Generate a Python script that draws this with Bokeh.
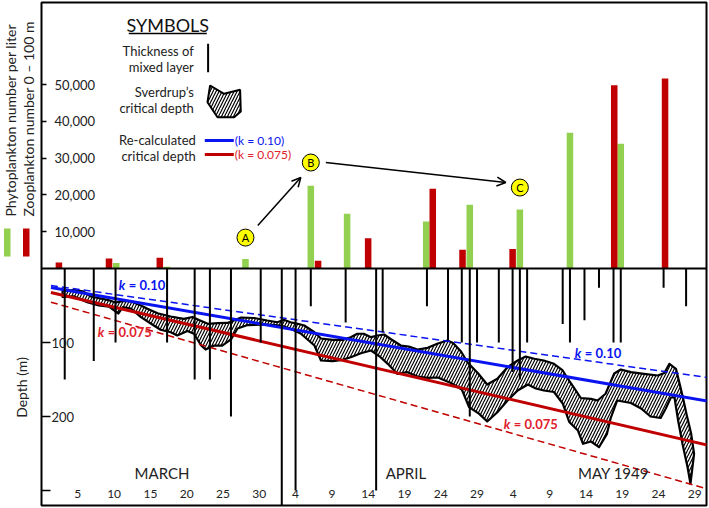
from math import pi
from bokeh.plotting import figure
from bokeh.layouts import row
from bokeh.models import (Range1d, LinearAxis, FixedTicker, NumeralTickFormatter, Span,
                          Label, Arrow, OpenHead, BoxAnnotation)
from bokeh.core.properties import value
from bokeh.embed import file_html
from bokeh.resources import INLINE

# ---------------- data (day 1 = 1 March 1949) ----------------
zoo_days = [2.4, 9.3, 16.3, 38.1, 45.0, 53.9, 58.0, 64.9, 78.9, 85.9]
zoo_counts = [1600, 2700, 2900, 2100, 8200, 21700, 5100, 5300, 49800, 51600]
phyto_days = [10.3, 17.3, 28.1, 37.1, 42.1, 53.0, 59.0, 65.9, 72.8, 79.8]
phyto_counts = [1500, 500, 2600, 22500, 14900, 12800, 17300, 16000, 36900, 33900]

mixed_days = [3.2, 7.2, 10.2, 17.3, 21.1, 23.2, 26.1, 30.2, 33.1, 35.0, 37.1, 41.9, 46.1, 47.0,
              53.1, 56.0, 57.9, 59.0, 60.0, 63.0, 64.9, 65.9, 66.9, 71.8, 72.8, 74.8, 76.8,
              78.8, 79.8, 85.7, 88.8]
mixed_depths = [150, 125, 100, 100, 150, 150, 200, 100, 330, 300, 51, 73, 300, 86,
                51, 97, 100, 200, 100, 100, 140, 150, 100, 75, 100, 70, 26,
                100, 100, 26, 51]

crit_upper_days = [2.9, 4.5, 5.7, 6.8, 9.1, 10.2, 11.2, 12.3, 13.7, 14.6, 16.0, 17.8, 19.6, 20.8,
                   21.7, 22.9, 24.3, 25.6, 26.5, 27.5, 29.3, 31.1, 32.5, 33.4, 34.3, 35.3, 36.2,
                   37.6, 38.5, 40.1, 41.5, 42.6, 43.5, 44.4, 45.4, 46.3, 47.2, 48.1, 49.5, 50.6,
                   51.8, 53.2, 54.6, 55.9, 56.7, 57.8, 58.7, 60.1, 61.4, 62.8, 64.2, 65.6, 66.7,
                   67.9, 69.2, 70.6, 71.8, 72.9, 74.3, 75.7, 76.6, 77.7, 78.9, 79.8, 81.2, 83.0,
                   84.9, 85.8, 86.5, 87.4, 87.8, 88.3, 88.9, 89.5, 89.9, 89.4]
crit_upper_depths = [30.4, 29.1, 30.7, 37.8, 42.3, 45.9, 44.2, 44.2, 50.0, 54.5, 60.4, 64.9, 68.0,
                     65.5, 69.6, 74.7, 73.9, 73.6, 70.3, 66.2, 66.9, 70.3, 72.6, 69.3, 72.6, 74.7,
                     77.0, 86.1, 94.6, 96.4, 96.4, 92.8, 88.2, 88.2, 92.8, 90.5, 89.2, 95.3, 104.1,
                     105.4, 109.5, 107.2, 101.4, 97.3, 100.7, 112.2, 127.0, 141.2, 156.8, 149.1,
                     133.4, 124.3, 118.9, 122.0, 124.3, 128.8, 137.8, 154.7, 175.0, 176.1, 178.4,
                     169.3, 141.9, 136.5, 140.1, 142.3, 144.6, 141.2, 128.8, 135.5, 151.4, 171.6,
                     198.6, 223.4, 250.4, 290.9]
crit_lower_days = [2.9, 4.5, 6.3, 7.9, 9.3, 10.6, 11.2, 12.3, 13.7, 15.1, 16.4, 17.8, 18.7, 20.1,
                   21.0, 22.0, 22.6, 23.8, 24.9, 26.1, 27.0, 28.4, 31.1, 33.0, 34.3, 35.7, 37.6,
                   38.5, 40.1, 41.5, 42.6, 44.0, 45.4, 46.7, 47.7, 49.0, 50.4, 51.8, 53.2, 54.6,
                   56.4, 57.9, 58.9, 60.3, 61.4, 62.8, 64.2, 65.6, 67.0, 68.1, 69.2, 70.6, 71.8,
                   72.7, 73.9, 74.6, 75.7, 76.8, 77.9, 78.4, 79.3, 81.2, 82.6, 83.9, 85.3, 86.0,
                   86.7, 87.2, 87.7, 88.3, 89.0]
crit_lower_depths = [38.5, 37.8, 45.5, 50.0, 51.4, 60.8, 52.3, 54.1, 65.8, 74.7, 82.8, 86.1, 90.5,
                     84.5, 88.2, 104.1, 109.5, 104.1, 104.1, 95.9, 81.1, 76.4, 75.7, 77.0, 81.5,
                     87.8, 104.1, 124.3, 125.3, 123.4, 119.9, 114.5, 110.8, 119.9, 128.8, 142.3,
                     140.1, 145.9, 147.7, 147.3, 154.7, 163.5, 187.4, 196.4, 206.8, 194.2, 178.4,
                     164.9, 156.8, 162.2, 164.9, 166.9, 182.4, 207.4, 218.9, 236.9, 233.8, 241.5,
                     223.4, 202.7, 178.4, 181.8, 189.2, 200.0, 202.0, 189.2, 174.3, 174.3, 205.4,
                     236.9, 268.5]

recalc_days = [1.3, 92.0]
k010_depths = [25.7, 179.7]
k010_dashed_depths = [23.0, 147.7]
k0075_depths = [32.4, 239.2]
k0075_dashed_depths = [45.5, 298.6]

x_tick_days = [5, 10, 15, 20, 25, 30, 35, 40, 45, 50, 55, 60, 65, 70, 75, 80, 85, 90]
x_tick_labels = ["5", "10", "15", "20", "25", "30", "4", "9", "14", "19", "24", "29",
                 "4", "9", "14", "19", "24", "29"]
count_ticks = [10000, 20000, 30000, 40000, 50000]
depth_ticks = [100, 200, 300]
depth_tick_labels = ["100", "200", ""]
months = ["MARCH", "APRIL", "MAY 1949"]
month_days = [16.6, 50.2, 78.8]
marker_letters = ["A", "B", "C"]
marker_days = [28.1, 37.1, 65.9]
marker_counts = [8400, 28800, 22000]

# ---------------- layout ----------------
H = 507
LW = 40                      # left title strip
W = 668                      # main figure
MB_L, MB_R, MB_T, MB_B = 1, 2, 2, 2
FW = W - MB_L - MB_R
FH = H - MB_T - MB_B
TOP_PX = 266
BOT_PX = FH - TOP_PX
PX_PER_DAY = 7.259
X_MAX = FW / PX_PER_DAY
PX_PER_M = 0.74
DEPTH_MAX = BOT_PX / PX_PER_M
PX_PER_COUNT = 3.68 / 1000.0
FONT = "Lato"
GREEN = "#92D050"
RED = "#C00000"
BLUE = "#0A14F0"
RED_TXT = "#E0202A"
TXT = "#222222"


def ref_day(x):
    return (x - 40.7) / PX_PER_DAY


def ref_cnt(y):
    return (268 - y) / 3.68 * 1000


def ref_dep(y):
    return (y - 268) / 0.74


y_depth = Range1d(DEPTH_MAX, -TOP_PX / PX_PER_M)
y_counts = Range1d(-BOT_PX / PX_PER_COUNT, TOP_PX / PX_PER_COUNT)

p = figure(width=W, height=H, output_backend="svg", toolbar_location=None,
           x_range=Range1d(0, X_MAX), y_range=y_depth,
           x_axis_location=None, y_axis_location=None,
           min_border_left=MB_L, min_border_right=MB_R, min_border_top=MB_T, min_border_bottom=MB_B)
p.extra_y_ranges = {"counts": y_counts}
p.grid.visible = False
p.outline_line_color = "black"
p.outline_line_width = 2
p.background_fill_color = "white"
p.border_fill_color = "white"

# axes inside the frame
cax = LinearAxis(y_range_name="counts", ticker=FixedTicker(ticks=count_ticks),
                 formatter=NumeralTickFormatter(format="0,0"), fixed_location=0)
dax = LinearAxis(ticker=FixedTicker(ticks=depth_ticks),
                 major_label_overrides={t: l for t, l in zip(depth_ticks, depth_tick_labels)},
                 fixed_location=0)
for ax, tout, so in ((cax, 5, 8), (dax, 9, 1)):
    ax.axis_line_color = None
    ax.major_tick_in = 0
    ax.major_tick_out = tout
    ax.major_tick_line_width = 1.5
    ax.minor_tick_line_color = None
    ax.major_label_standoff = so
    ax.major_label_text_font = FONT
    ax.major_label_text_font_size = "13px"
    ax.major_label_text_color = TXT
    p.add_layout(ax, "right")

xax = LinearAxis(ticker=FixedTicker(ticks=x_tick_days),
                 major_label_overrides={t: l for t, l in zip(x_tick_days, x_tick_labels)},
                 fixed_location=DEPTH_MAX)
xax.axis_line_color = None
xax.major_tick_line_color = None
xax.minor_tick_line_color = None
xax.major_label_standoff = 2
xax.major_label_text_font = FONT
xax.major_label_text_font_size = "12px"
xax.major_label_text_color = TXT
p.add_layout(xax, "above")

# Sverdrup critical depth band
band_x = crit_upper_days + crit_lower_days[::-1]
band_y = crit_upper_depths + crit_lower_depths[::-1]
p.patch(band_x, band_y, fill_alpha=0, hatch_pattern="/", hatch_color="black",
        hatch_weight=1.2, hatch_scale=6, line_color="black", line_width=2.2, line_join="round")

# re-calculated critical depth
p.line(recalc_days, k010_dashed_depths, line_color=BLUE, line_width=1.5, line_dash="7 4")
p.line(recalc_days, k0075_dashed_depths, line_color=RED, line_width=1.5, line_dash="7 4")
p.line(recalc_days, k010_depths, line_color=BLUE, line_width=3)
p.line(recalc_days, k0075_depths, line_color=RED, line_width=3)

# mixed layer thickness
p.segment(x0=mixed_days, y0=[0] * len(mixed_days), x1=mixed_days, y1=mixed_depths,
          line_color="black", line_width=2)

p.add_layout(Span(location=0, dimension="width", line_color="black", line_width=2))

# plankton bars
p.vbar(x=phyto_days, top=phyto_counts, bottom=0, width=0.9, fill_color=GREEN,
       line_color=None, y_range_name="counts")
p.vbar(x=zoo_days, top=zoo_counts, bottom=0, width=0.9, fill_color=RED,
       line_color=None, y_range_name="counts")

# A -> B -> C
p.add_layout(Arrow(end=OpenHead(size=9, line_width=1.5), line_width=1.5,
                   x_start=ref_day(257), y_start=ref_cnt(225), x_end=ref_day(300), y_end=ref_cnt(177),
                   y_range_name="counts"))
p.add_layout(Arrow(end=OpenHead(size=9, line_width=1.5), line_width=1.5,
                   x_start=ref_day(325), y_start=ref_cnt(162), x_end=ref_day(505), y_end=ref_cnt(182),
                   y_range_name="counts"))
p.scatter(marker_days, marker_counts, size=17, fill_color="#FFFF00", line_color="black",
          line_width=1, y_range_name="counts")
p.text(marker_days, marker_counts, text=marker_letters, text_align="center", text_baseline="middle",
       text_font=value(FONT), text_font_size="11px", y_range_name="counts")

# month labels
for m, d in zip(months, month_days):
    p.add_layout(Label(x=d, y=ref_dep(472), text=m, text_align="center", text_baseline="middle",
                       text_font=FONT, text_font_size="15px", text_color=TXT))

# k labels on the lines
for xr, yr, val, col in ((118, 284, "= 0.10", BLUE), (97, 331, "= 0.075", RED_TXT),
                         (574, 352, "= 0.10", BLUE), (503, 423, "= 0.075", RED_TXT)):
    p.add_layout(Label(x=ref_day(xr), y=ref_dep(yr), text="k", text_align="left",
                       text_baseline="middle", text_font=FONT, text_font_style="bold italic",
                       text_font_size="13px", text_color=col))
    p.add_layout(Label(x=ref_day(xr), y=ref_dep(yr), x_offset=10, text=val, text_align="left",
                       text_baseline="middle", text_font=FONT, text_font_style="bold",
                       text_font_size="13px", text_color=col))

# symbols legend
p.add_layout(Label(x=ref_day(167), y=ref_cnt(24), text="SYMBOLS", text_align="center",
                   text_baseline="middle", text_font=FONT, text_font_size="18px",
                   text_color="#111111", y_range_name="counts"))
p.segment(x0=[ref_day(128)], y0=[ref_cnt(33)], x1=[ref_day(206)], y1=[ref_cnt(33)],
          line_color="black", line_width=1.3, y_range_name="counts")
for txt, xr, yr in (("Thickness of", 193, 50), ("mixed layer", 193, 66), ("Sverdrup’s", 193, 91),
                    ("critical depth", 193, 107), ("Re-calculated", 195, 139),
                    ("critical depth", 195, 155)):
    p.add_layout(Label(x=ref_day(xr), y=ref_cnt(yr), text=txt, text_align="right",
                       text_baseline="middle", text_font=FONT, text_font_size="13px",
                       text_color=TXT, y_range_name="counts"))
p.segment(x0=[ref_day(207.3)], y0=[ref_cnt(43.3)], x1=[ref_day(207.3)], y1=[ref_cnt(71.7)],
          line_color="black", line_width=2, y_range_name="counts")
icon_x = [ref_day(v) for v in (209.3, 223.3, 239.3, 240, 233.3, 216.7, 206.7)]
icon_y = [ref_cnt(v) for v in (85, 93.3, 89.3, 111, 116.7, 116.7, 101.7)]
p.patch(icon_x, icon_y, fill_alpha=0, hatch_pattern="/", hatch_color="black", hatch_weight=1.2,
        hatch_scale=6, line_color="black", line_width=2, y_range_name="counts")
p.segment(x0=[ref_day(204)] * 2, y0=[ref_cnt(140), ref_cnt(154)], x1=[ref_day(233)] * 2,
          y1=[ref_cnt(140), ref_cnt(154)], line_color=[BLUE, RED], line_width=3,
          y_range_name="counts")
p.add_layout(Label(x=ref_day(234), y=ref_cnt(140), text="(k = 0.10)", text_baseline="middle",
                   text_font=FONT, text_font_size="12px", text_color=BLUE, y_range_name="counts"))
p.add_layout(Label(x=ref_day(234), y=ref_cnt(154), text="(k = 0.075)", text_baseline="middle",
                   text_font=FONT, text_font_size="12px", text_color=RED_TXT, y_range_name="counts"))

# ---------------- left strip with the axis titles ----------------
t = figure(width=LW, height=H, output_backend="svg", toolbar_location=None,
           x_range=Range1d(0, LW), y_range=y_depth,
           x_axis_location=None, y_axis_location=None,
           min_border_left=0, min_border_right=0, min_border_top=MB_T, min_border_bottom=MB_B)
t.extra_y_ranges = {"counts": y_counts}
t.grid.visible = False
t.outline_line_color = None
t.background_fill_color = "white"
t.border_fill_color = "white"
t.add_layout(Label(x=9.5, y=ref_cnt(216), text="Phytoplankton number per liter",
                   angle=pi / 2, text_align="left", text_baseline="middle", text_font=FONT,
                   text_font_size="14px", text_color=TXT, y_range_name="counts"))
t.add_layout(Label(x=27.5, y=ref_cnt(216), text="Zooplankton number 0 – 100 m",
                   angle=pi / 2, text_align="left", text_baseline="middle", text_font=FONT,
                   text_font_size="14px", text_color=TXT, y_range_name="counts"))
t.add_layout(BoxAnnotation(left=3.5, right=10, bottom=ref_cnt(256), top=ref_cnt(228),
                           fill_color=GREEN, fill_alpha=1, line_color=None, y_range_name="counts"))
t.add_layout(BoxAnnotation(left=22.5, right=29, bottom=ref_cnt(256), top=ref_cnt(228),
                           fill_color=RED, fill_alpha=1, line_color=None, y_range_name="counts"))
t.add_layout(Label(x=20.5, y=ref_dep(387), text="Depth (m)", angle=pi / 2,
                   text_align="center", text_baseline="middle", text_font=FONT,
                   text_font_size="14px", text_color=TXT))

layout = row(t, p)
open("out.html", "w").write(file_html(layout, INLINE))
